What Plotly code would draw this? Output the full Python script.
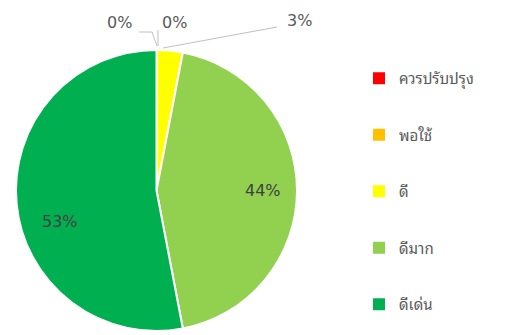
import plotly.graph_objects as go

categories = ["ควรปรับปรุง", "พอใช้", "ดี", "ดีมาก", "ดีเด่น"]
values = [0, 0, 3, 44, 53]
colors = ["#FF0000", "#FFC000", "#FFFF00", "#92D050", "#00B050"]

W, H = 511, 335
def px(x):
    return x / W
def py(y):
    return 1 - y / H

NUMFONT = "DejaVu Sans, sans-serif"
FONT = "Noto Sans Thai Looped, Loma, Garuda, Tahoma, DejaVu Sans, Noto Sans Thai, sans-serif"
TXT = "#595959"

fig = go.Figure()
fig.add_trace(go.Pie(
    labels=categories, values=values, sort=False, direction="clockwise", rotation=0,
    marker=dict(colors=colors, line=dict(color="white", width=2)),
    textinfo="none", hoverinfo="label+percent", showlegend=False,
    domain=dict(x=[px(15), px(298)], y=[py(331), py(50)]),
))

for c, col in zip(categories, colors):
    fig.add_trace(go.Scatter(
        x=[None], y=[None], mode="markers", name=c, legendgroup=c,
        marker=dict(symbol="square", size=13, color=col), showlegend=True,
    ))

# data label positions (pixels) for each slice, in category order
label_pos = [(119, 22), (174, 22), (299, 21), (263, 190), (60, 221)]
label_col = [TXT, TXT, TXT, "#404040", "#404040"]
annotations = [dict(text=f"{v}%", x=px(x), y=py(y), xref="paper", yref="paper", showarrow=False,
                    xanchor="center", yanchor="middle",
                    font=dict(family=NUMFONT, size=16, color=c))
               for v, (x, y), c in zip(values, label_pos, label_col)]

lc = "#BFBFBF"
shapes = [
    dict(type="path", xref="paper", yref="paper",
         path=f"M {px(139)} {py(32)} L {px(152)} {py(32)} L {px(157)} {py(46)}",
         line=dict(color=lc, width=1)),
    dict(type="line", xref="paper", yref="paper", x0=px(158), y0=py(30), x1=px(158), y1=py(46),
         line=dict(color=lc, width=1)),
    dict(type="line", xref="paper", yref="paper", x0=px(277), y0=py(27), x1=px(163), y1=py(48),
         line=dict(color=lc, width=1)),
]

fig.update_layout(
    width=W, height=H, margin=dict(l=0, r=0, t=0, b=0),
    paper_bgcolor="white", plot_bgcolor="white",
    xaxis=dict(visible=False), yaxis=dict(visible=False),
    annotations=annotations, shapes=shapes,
    legend=dict(x=px(359), y=py(62), xanchor="left", yanchor="top",
                font=dict(family=FONT, size=15, color=TXT),
                tracegroupgap=34, itemsizing="constant"),
)

fig.write_html("out.html", config={"displayModeBar": False},
               post_script="document.body.style.margin='0';")
